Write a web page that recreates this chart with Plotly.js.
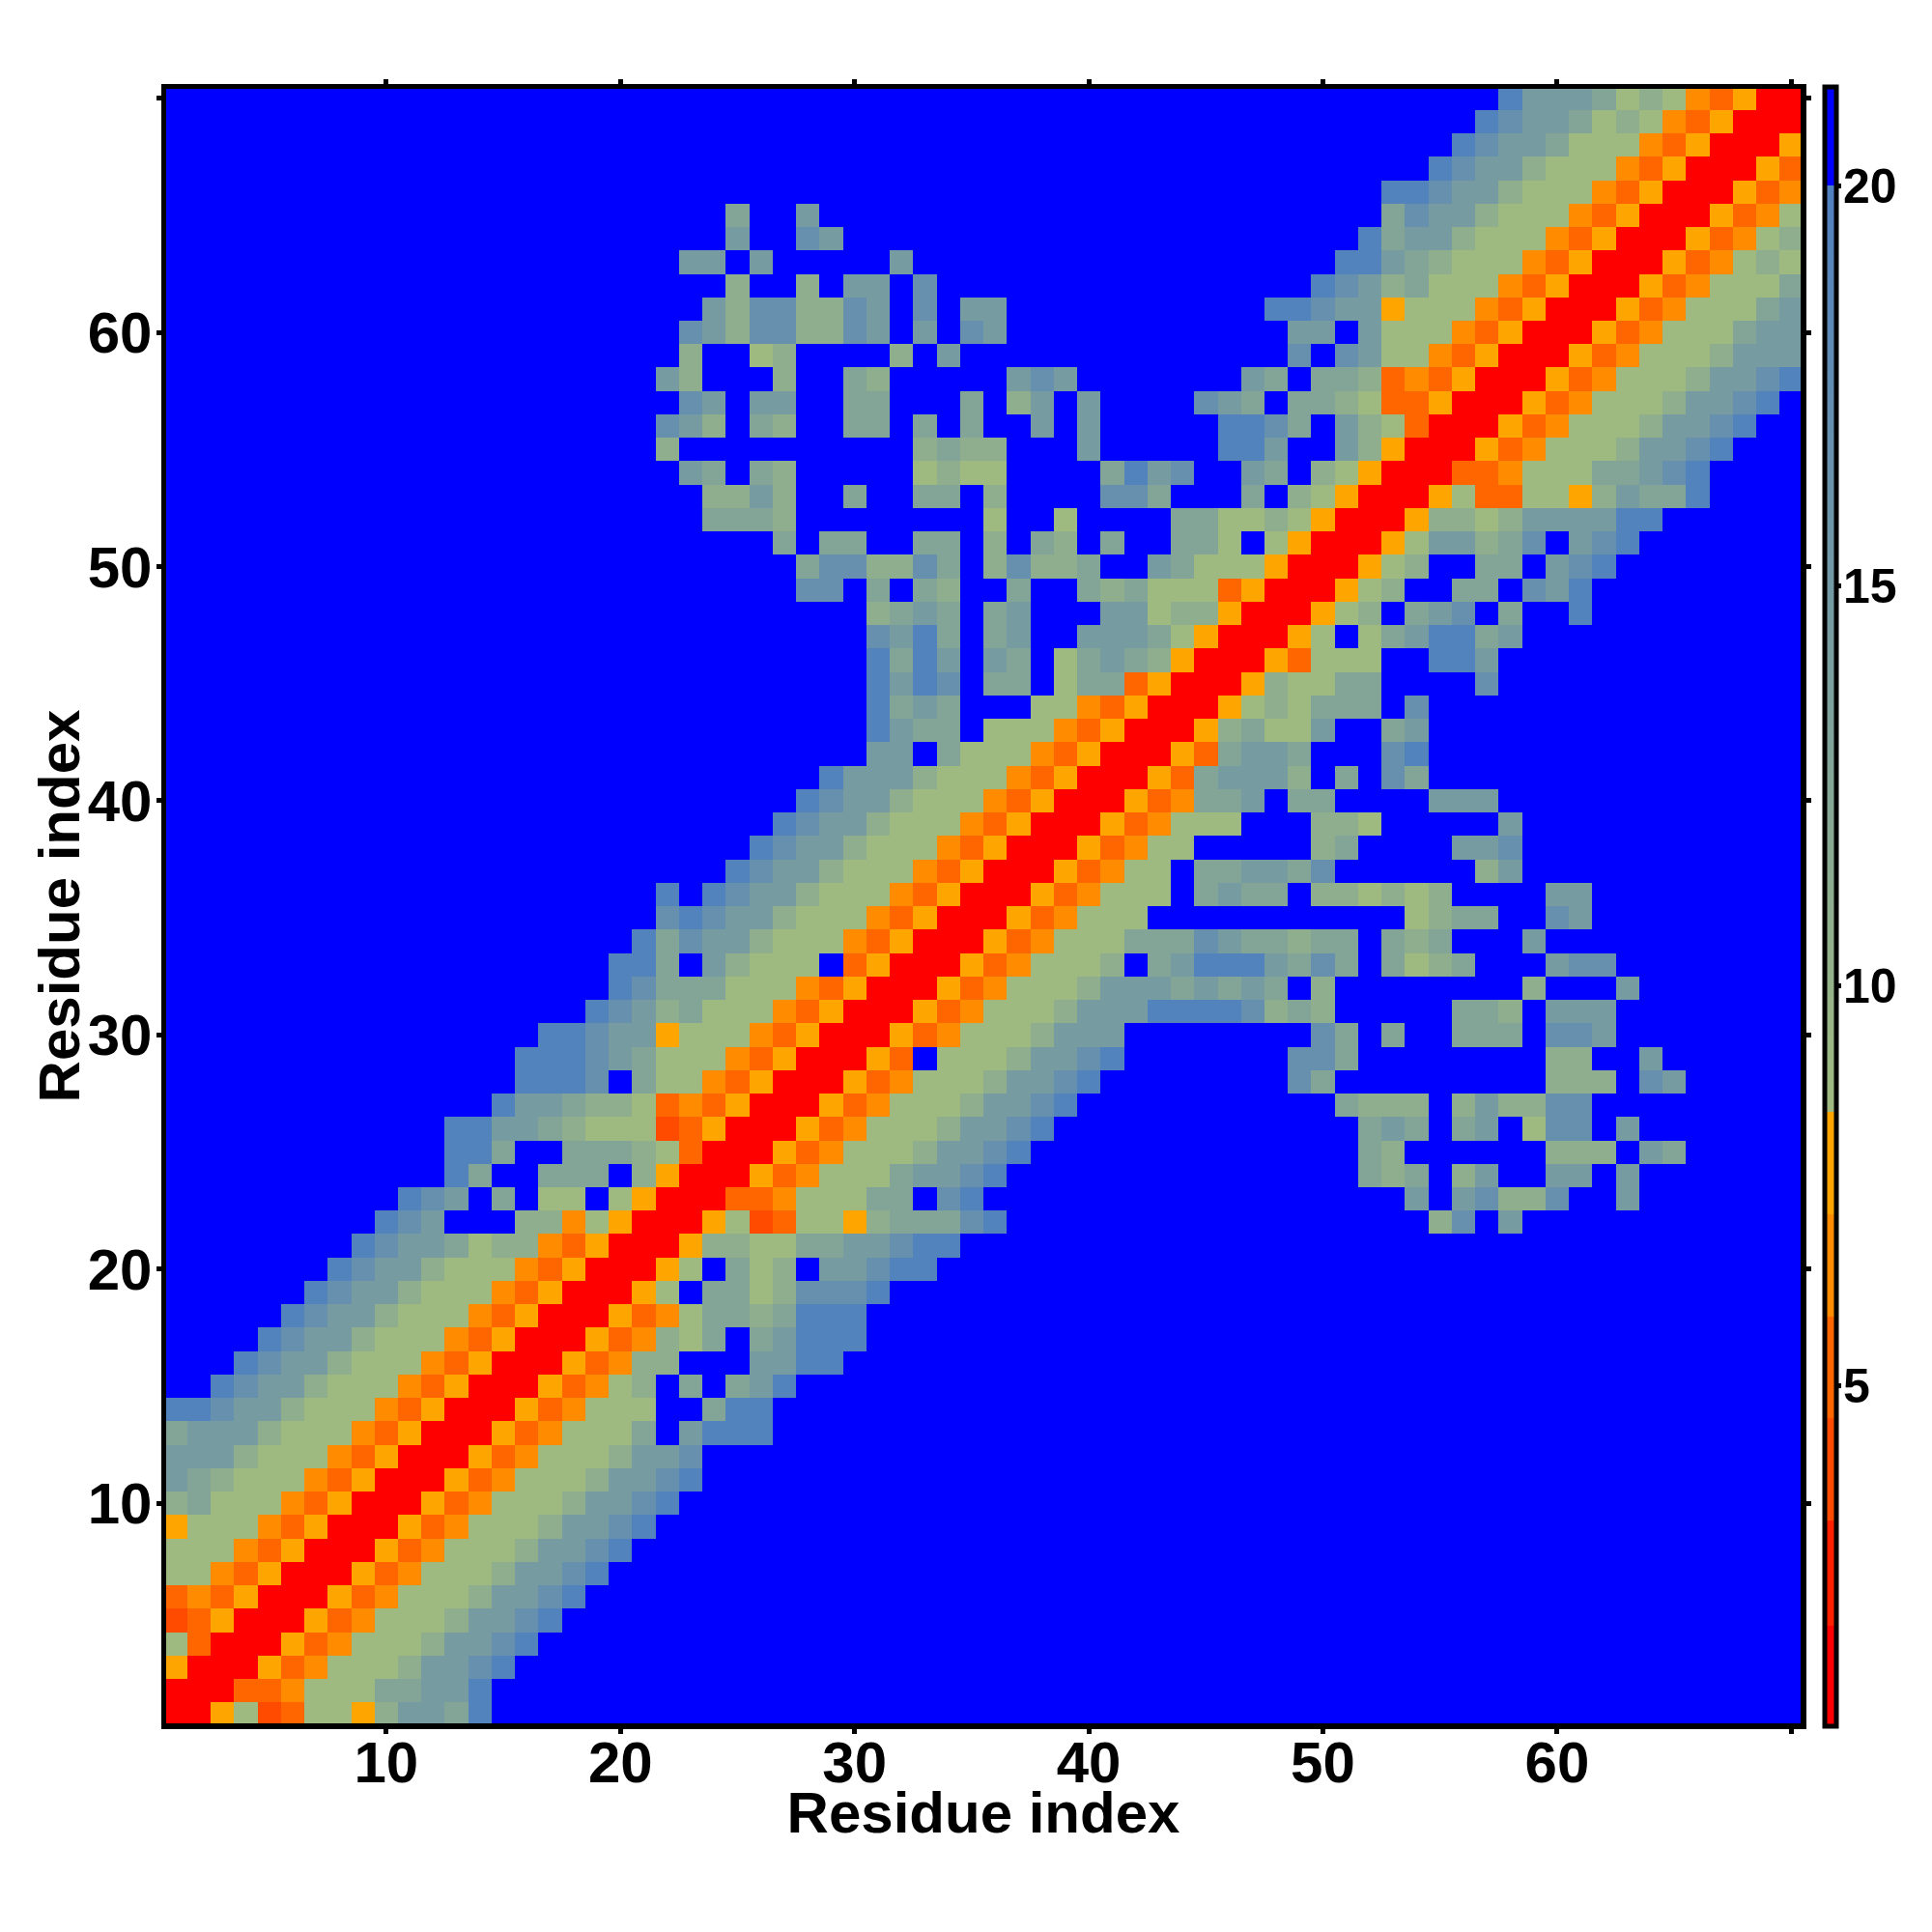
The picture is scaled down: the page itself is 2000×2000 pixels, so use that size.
<!DOCTYPE html>
<html><head><meta charset="utf-8">
<script src="https://cdn.plot.ly/plotly-3.0.0.min.js"></script>
<style>html,body{margin:0;padding:0;background:#fff}#chart{width:2000px;height:2000px}</style>
</head><body><div id="chart"></div>
<script>
const letters = ['r','e','d','o','a','s','t','u','v','w','x','.'];
const values  = [1.4,4.0,5.2,6.5,7.8,8.6,11.0,12.8,14.5,16.8,19.5,21];
// Lower triangle of the symmetric map: first residue shown in each row ...
const rowStart = [1,1,1,1,1,1,1,1,1,1,1,1,1,1,1,1,1,1,1,1,1,1,1,1,1,1,1,1,1,1,1,1,1,1,1,1,1,1,1,1,1,1,1,1,1,1,1,1,1,1,1,1,1,1,1,1,1,1,1,1,1,1,1,1,1,1,1,1,1,1];
// ... and its cells up to the diagonal.
const rowCells = [
"r","rr","arr","sdrr","edarr","dodarr","ssodarr","sssodarr","asssodarr","tusssodarr",
"vutsssodarr","vvvtsssodarr","uvvvtsssodarr","xxwvvtsssodarr","..xwvvtsssodarr","...xwvvtsssodarr",
"....xwvvtsssodarr",".....xwvvtsssodarr","......xwvvtsssodarr",".......xwvvtsssodarr",
"........xwvvusttodarr",".........xwv...ttosarr","..........xwv.u.ss.sarr","............xu..uuu.tarr",
"............xxu..uuutsdrr","............xxvvutsssedarr","..............xvvuttsdodarr",
"...............xxxw.ussodarr","...............xxxwvusssodarr","................xxwvvasssodarr",
"..................xwvtusssodarr","...................xwuuusssodarr","...................xxu.vtsss.darr",
"....................xuwvvtsssodarr",".....................wxwvvtsssodarr",".....................x.xwvvtsssodarr",
"........................xwvvtsssodarr",".........................xwvvtsssodarr","..........................xwvvtsssodarr",
"...........................xwvvtsssodarr","............................xvvvtsssodarr",
"..............................vv.usssodarr","..............................xvuu.sssodarr",
"..............................xuvu...ssodarr","..............................xvxw.uu.suudarr",
"..............................xuxv.vu.suvutarr","..............................wvxu.uv..vvvusarr",
"..............................tuvu.uv...vvsttarr",
"...........................ww.u.ut..u..utusssdarr",
"...........................uwwttwu.twttu..vusssarr",
"..........................u.uu..uu.t.ut.u..uus.sarr",
".......................uuut........s..s....uusstsarr",
".......................ttvt..u..uu.t....wwu...u.tsarr",
"......................vu.ut.....stss....uxvw..vu.tsarr",
".....................t..........tutt...v.....xxv..vtarr",
".....................wvt.ut..uu.u.u..v.v.....xxwu.vtsdrr",
"......................wv.vv..uu...u.tv.v....wvu.uutsddarr",
".....................vt...t..ut.....vwv.......vu.uutdodarr",
"......................t..st....t.v..............w.wvssodarr",
"......................wvtwwttwv.v.wv............vv.vsssodarr",
".......................vtwwttwv.w.vv...........xxwvvasssodarr",
"........................t..t.vv.w................xwvtusssodarr",
"......................vv.v.....v..................xxvutsssodarr",
"........................v..wv......................xuvvtsssodarr",
"........................u..v........................uwvvtsssodarr",
"....................................................xxwvvtsssodarr",
"......................................................xwvvtsssodarr",
".......................................................xwvvusssodarr",
"........................................................xwvvustsodarr",
".........................................................xvvvustsodarr"
];
const residues = Array.from({length: rowCells.length}, (_, i) => i + 1);
const xTickVals = [10,20,30,40,50,60,70];
const xTickText = ['10','20','30','40','50','60',''];
const barTicks = [5,10,15,20];
const stepEdges = [2.0,3.31,4.59,5.86,7.14,8.42];
const stepColors = ['#ff0000','#ff2000','#ff4b00','#ff6600','#ff8c00','#ffa500'];
const zLow = 0.75, zHigh = 21.25, rampEnd = 20;

const z = residues.map(() => residues.map(() => values[values.length - 1]));
rowCells.forEach((row, j) => {
  [...row].forEach((ch, k) => {
    const i = rowStart[j] - 1 + k;
    const v = values[letters.indexOf(ch)];
    z[j][i] = v; z[i][j] = v;
  });
});

const norm = v => (v - zLow) / (zHigh - zLow);
const eps = 1e-5;
const scale = [];
let lo = zLow;
stepEdges.forEach((hi, i) => {
  scale.push([norm(lo) + (i ? eps : 0), stepColors[i]], [norm(hi), stepColors[i]]);
  lo = hi;
});
scale.push([norm(lo) + eps, '#a0bb80'], [norm(rampEnd), '#5080c0'],
           [norm(rampEnd) + eps, '#0000ff'], [1, '#0000ff']);

const bold = size => ({family: '"Liberation Sans", Arial, sans-serif', size, color: '#000', weight: 700});
const axis = extra => Object.assign({
  range: [0.6, 70.4], tickmode: 'array', tickvals: xTickVals, ticktext: xTickText,
  ticks: 'outside', ticklen: 5, tickwidth: 5, tickcolor: '#000',
  showline: true, linewidth: 5.5, linecolor: '#000', mirror: 'ticks',
  showgrid: false, zeroline: false, tickfont: bold(60)
}, extra);

Plotly.newPlot('chart', [{
  type: 'heatmap', x: residues, y: residues, z,
  zmin: zLow, zmax: zHigh, colorscale: scale, zsmooth: false, hoverongaps: false,
  colorbar: {
    thickness: 12, thicknessmode: 'pixels', len: 1697, lenmode: 'pixels',
    x: 1.01507, xanchor: 'left', xref: 'paper', y: 0.5, yanchor: 'middle', yref: 'paper', xpad: 0, ypad: 0,
    outlinewidth: 5, outlinecolor: '#000', borderwidth: 0,
    tickmode: 'array', tickvals: barTicks, ticktext: barTicks.map(String),
    ticks: 'outside', ticklen: 3, tickwidth: 5, tickcolor: '#000',
    tickfont: bold(50), ticklabelposition: 'outside'
  }
}], {
  width: 2000, height: 2000, paper_bgcolor: '#fff', plot_bgcolor: '#fff',
  margin: {l: 172, r: 136, t: 92, b: 216, pad: 0},
  xaxis: axis({ticklabelstandoff: -22, title: {text: 'Residue index', font: bold(60), standoff: 0}}),
  yaxis: axis({ticklabelstandoff: -8, title: {text: 'Residue index', font: bold(60), standoff: 0}}),
  showlegend: false
}, {displayModeBar: false, staticPlot: true}).then(() => {
  // Nudge text that Plotly's minimum standoff cannot bring close enough.
  const nudge = (sel, dx, dy) => document.querySelectorAll(sel).forEach(el =>
    el.setAttribute('transform', `translate(${dx},${dy}) ` + (el.getAttribute('transform') || '')));
  nudge('.xtitle', 0, -15);
  nudge('.ytitle', 9, 0);
  nudge('.cbaxis text', -8, 0);
});
</script></body></html>
